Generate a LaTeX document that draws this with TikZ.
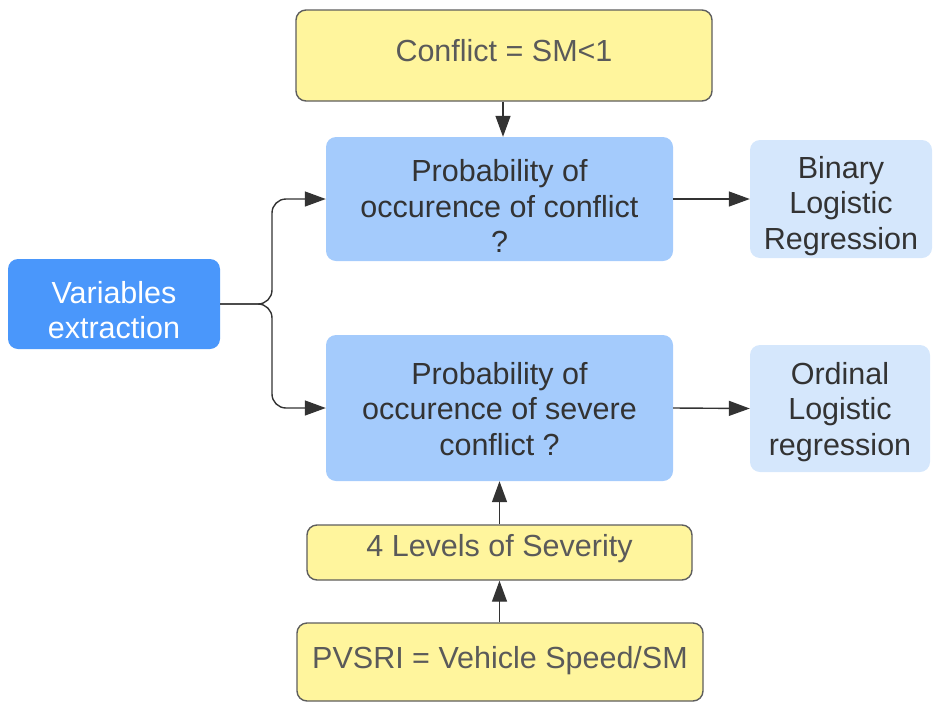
\documentclass[tikz,border=0pt]{standalone}
\usepackage{fontspec}
\setmainfont{Liberation Sans}
\usetikzlibrary{arrows.meta}
\definecolor{yfill}{HTML}{FFF59D}
\definecolor{ydraw}{HTML}{5E5E5E}
\definecolor{ytext}{HTML}{5A5A5A}
\definecolor{bfill}{HTML}{A4CBFC}
\definecolor{lfill}{HTML}{D5E7FC}
\definecolor{vfill}{HTML}{4A97FB}
\definecolor{dtext}{HTML}{333333}
\definecolor{lcol}{HTML}{333333}
\tikzset{
  x=1pt, y=-1pt,
  basebox/.style={rounded corners=10pt, inner sep=0pt},
  ybox/.style={basebox, fill=yfill, draw=ydraw, line width=1.4pt},
  bbox/.style={basebox, fill=bfill},
  lbox/.style={basebox, fill=lfill},
  vbox/.style={basebox, fill=vfill},
  txt/.style={inner sep=0pt, align=center, font=\fontsize{30.5}{35.5}\selectfont, text=dtext},
  ytxt/.style={txt, text=ytext},
  wtxt/.style={txt, text=white},
  arr/.style={draw=lcol, line width=1.4pt, -{Triangle[length=21pt,width=15pt]}},
}
\begin{document}
\begin{tikzpicture}
\useasboundingbox (0,0) rectangle (935,702);
\node[ybox, minimum width=416pt, minimum height=91pt] (conf) at (504,55.5) {};
\node[ytxt] (conft) at (504,51) {Conflict = SM<1};
\node[bbox, minimum width=347pt, minimum height=124pt] (p1) at (499.5,199) {};
\node[txt] (p1t) at (499.5,206) {Probability of\\occurence of conflict\\?};
\node[bbox, minimum width=347pt, minimum height=146pt] (p2) at (499.5,408) {};
\node[txt] (p2t) at (499.5,409) {Probability of\\occurence of severe\\conflict ?};
\node[lbox, minimum width=182pt, minimum height=118pt] (bin) at (841,199) {};
\node[txt] (bint) at (841,206) {Binary\\Logistic\\Regression};
\node[lbox, minimum width=180pt, minimum height=127pt] (ord) at (840,408.5) {};
\node[txt] (ordt) at (840,412) {Ordinal\\Logistic\\regression};
\node[vbox, minimum width=212pt, minimum height=90pt] (var) at (114,304) {};
\node[wtxt] (vart) at (114,310) {Variables\\extraction};
\node[ybox, minimum width=385pt, minimum height=55pt] (lev) at (499.5,552.5) {};
\node[ytxt] (levt) at (499.5,549) {4 Levels of Severity};
\node[ybox, minimum width=406pt, minimum height=78pt] (pv) at (500,662) {};
\node[ytxt] (pvt) at (500,661) {PVSRI = Vehicle Speed/SM};
\coordinate (br) at (272,304);
\draw[arr] (conf.south -| 503,0) -- (p1.north -| 503,0);
\draw[arr] (p1.east) -- (bin.west);
\draw[arr] (p2.east) -- (ord.west);
\draw[arr] (lev.north) -- (p2.south -| lev.north);
\draw[arr] (pv.north -| lev.south) -- (lev.south);
\draw[arr, rounded corners=14pt] (var.east) -- (br) |- (p1.west);
\draw[arr, rounded corners=14pt] (var.east) -- (br) |- (p2.west);
\end{tikzpicture}
\end{document}
